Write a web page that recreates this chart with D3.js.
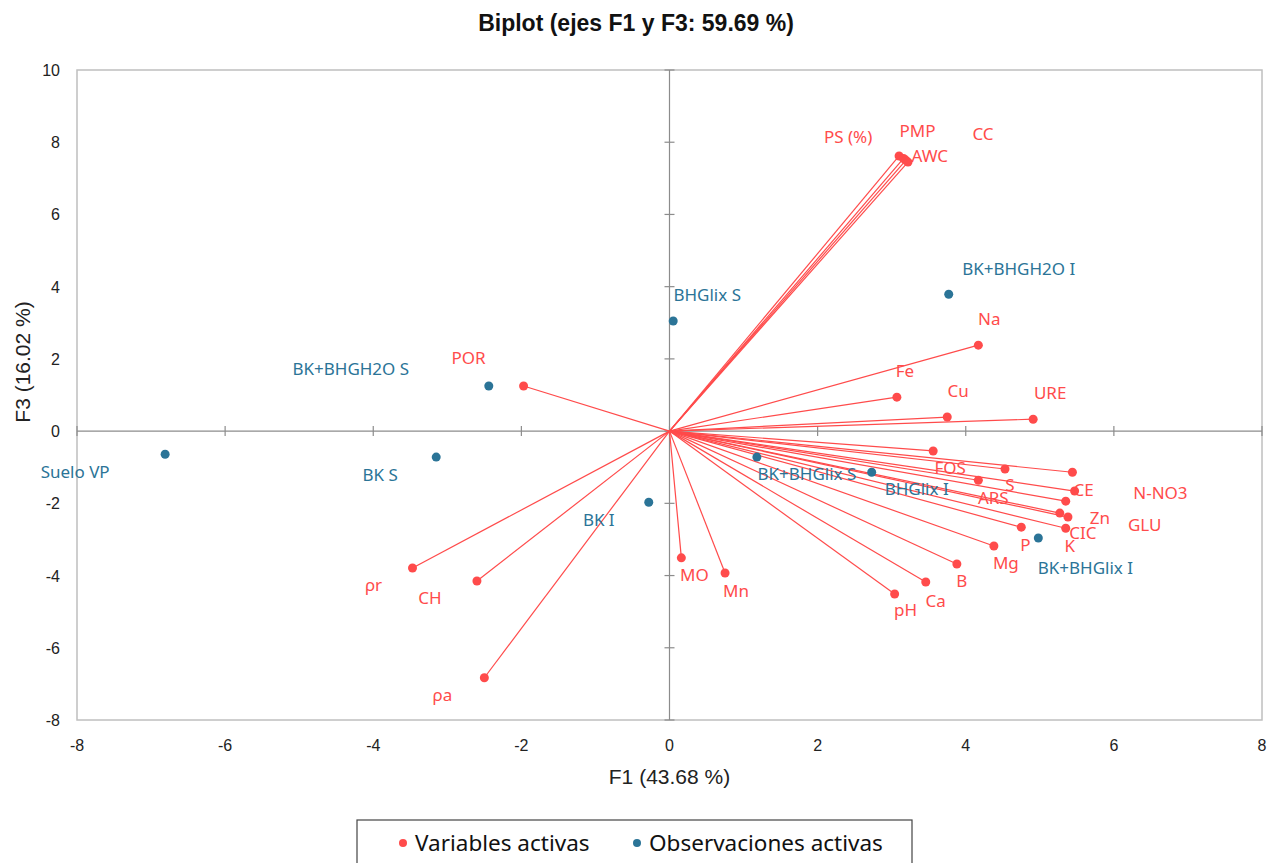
<!DOCTYPE html>
<html>
<head>
	<meta charset="utf-8">
	<title>Biplot</title>
	<script src="https://d3js.org/d3.v7.min.js"></script>
	<style>
	body { margin: 0; background: #fff; }
	text { font-family: "Liberation Sans", Arial, sans-serif; }
	.lbl { font-family: "Noto Sans", sans-serif; }
	</style>
</head>
<body>
<script type="text/javascript">

// active variables (F1, F3)
const varNames = ["PS (%)", "PMP", "AWC", "CC", "Na", "Fe", "Cu", "URE", "FOS", "S", "ARS",
	"N-NO3", "CE", "GLU", "CIC", "Zn", "K", "P", "Mg", "B", "Ca", "pH", "Mn", "MO", "ρr", "CH", "ρa", "POR"]
const varF1 = [3.10, 3.16, 3.19, 3.22, 4.17, 3.07, 3.75, 4.91, 3.56, 4.53, 4.17,
	5.44, 5.47, 5.35, 5.27, 5.38, 5.35, 4.75, 4.38, 3.88, 3.46, 3.04, 0.75, 0.16, -3.47, -2.60, -2.50, -1.97]
const varF3 = [7.62, 7.55, 7.50, 7.45, 2.38, 0.94, 0.39, 0.33, -0.55, -1.05, -1.36,
	-1.14, -1.66, -1.94, -2.27, -2.38, -2.69, -2.66, -3.18, -3.68, -4.18, -4.51, -3.93, -3.51, -3.79, -4.15, -6.83, 1.25]

// active observations (F1, F3)
const obsNames = ["Suelo VP", "BK S", "BK+BHGH2O S", "BK I", "BHGlix S", "BK+BHGH2O I", "BK+BHGlix S", "BHGlix I", "BK+BHGlix I"]
const obsF1 = [-6.81, -3.15, -2.44, -0.28, 0.05, 3.77, 1.18, 2.73, 4.98]
const obsF3 = [-0.64, -0.72, 1.25, -1.97, 3.05, 3.79, -0.72, -1.14, -2.96]

const xTicks = [-8, -6, -4, -2, 0, 2, 4, 6, 8]
const yTicks = [-8, -6, -4, -2, 0, 2, 4, 6, 8, 10]

// label offsets (px) from the marker, placed like the original
const labelOff = {
	"PS (%)": [-51, -19], "PMP": [14, -28], "AWC": [24, -5], "CC": [75, -29],
	"Na": [11, -27], "Fe": [8, -27], "Cu": [11, -27], "URE": [17, -27],
	"FOS": [17, 17], "S": [5, 15], "ARS": [15, 17], "N-NO3": [88, 20], "CE": [9, -2],
	"GLU": [79, 23], "CIC": [23, 19], "Zn": [32, 0], "K": [4, 17], "P": [4, 17],
	"Mg": [12, 17], "B": [5, 16], "Ca": [10, 18], "pH": [11, 16], "Mn": [11, 17],
	"MO": [13, 17], "ρr": [-39, 17], "CH": [-47, 17], "ρa": [-42, 17], "POR": [-55, -28],
	"Suelo VP": [-90, 17], "BK S": [-56, 17], "BK+BHGH2O S": [-138, -17], "BK I": [-50, 17],
	"BHGlix S": [34, -26], "BK+BHGH2O I": [70, -26], "BK+BHGlix S": [50, 16],
	"BHGlix I": [45, 16], "BK+BHGlix I": [47, 29]
}

const red = "#FF4B4B"
const blue = "#2B7497"

const width = 1271
const height = 863
const pLeft = 77, pRight = 1262, pTop = 70, pBottom = 720

const svg = d3.select("body").append("svg")
	.attr("width", width)
	.attr("height", height)

const x = d3.scaleLinear().domain([-8, 8]).range([pLeft, pRight])
const y = d3.scaleLinear().domain([-8, 10]).range([pBottom, pTop])

// plot frame
svg.append("rect")
	.attr("x", pLeft).attr("y", pTop)
	.attr("width", pRight - pLeft).attr("height", pBottom - pTop)
	.attr("fill", "none").attr("stroke", "#BFBFBF").attr("stroke-width", 1.5)

// zero axes with cross ticks
const axisCol = "#8C8C8C"
svg.append("line")
	.attr("x1", pLeft).attr("x2", pRight).attr("y1", y(0)).attr("y2", y(0))
	.attr("stroke", axisCol).attr("stroke-width", 1.2)
svg.append("line")
	.attr("x1", x(0)).attr("x2", x(0)).attr("y1", pTop).attr("y2", pBottom)
	.attr("stroke", axisCol).attr("stroke-width", 1.2)

svg.selectAll(".xt").data(xTicks).enter().append("line")
	.attr("x1", d => x(d)).attr("x2", d => x(d))
	.attr("y1", y(0) - 5).attr("y2", y(0) + 5)
	.attr("stroke", axisCol).attr("stroke-width", 1.2)
svg.selectAll(".yt").data(yTicks).enter().append("line")
	.attr("x1", x(0) - 5).attr("x2", x(0) + 5)
	.attr("y1", d => y(d)).attr("y2", d => y(d))
	.attr("stroke", axisCol).attr("stroke-width", 1.2)

// tick labels (low position)
svg.selectAll(".xl").data(xTicks).enter().append("text")
	.attr("x", d => x(d)).attr("y", 751)
	.attr("text-anchor", "middle")
	.attr("font-size", "16px").attr("fill", "#222")
	.text(d => d)
svg.selectAll(".yl").data(yTicks).enter().append("text")
	.attr("x", 60).attr("y", d => y(d) + 6)
	.attr("text-anchor", "end")
	.attr("font-size", "16px").attr("fill", "#222")
	.text(d => d)

// titles
svg.append("text")
	.attr("x", 636).attr("y", 31)
	.attr("text-anchor", "middle")
	.attr("font-size", "23px").attr("font-weight", "bold").attr("fill", "#111")
	.text("Biplot (ejes F1 y F3: 59.69 %)")
svg.append("text")
	.attr("x", x(0)).attr("y", 784)
	.attr("text-anchor", "middle")
	.attr("font-size", "21px").attr("fill", "#222")
	.text("F1 (43.68 %)")
svg.append("text")
	.attr("transform", "translate(30,362) rotate(-90)")
	.attr("text-anchor", "middle")
	.attr("font-size", "21px").attr("fill", "#222")
	.text("F3 (16.02 %)")

// variable vectors
const vars = varNames.map((n, i) => ({name: n, f1: varF1[i], f3: varF3[i]}))
const obs = obsNames.map((n, i) => ({name: n, f1: obsF1[i], f3: obsF3[i]}))

svg.selectAll(".vec").data(vars).enter().append("line")
	.attr("x1", x(0)).attr("y1", y(0))
	.attr("x2", d => x(d.f1)).attr("y2", d => y(d.f3))
	.attr("stroke", red).attr("stroke-width", 1.2)

svg.selectAll(".vp").data(vars).enter().append("circle")
	.attr("cx", d => x(d.f1)).attr("cy", d => y(d.f3))
	.attr("r", 4.5).attr("fill", red)

svg.selectAll(".op").data(obs).enter().append("circle")
	.attr("cx", d => x(d.f1)).attr("cy", d => y(d.f3))
	.attr("r", 4.5).attr("fill", blue)

function addLabels(data, col)
{
	svg.selectAll(null).data(data).enter().append("text")
		.attr("class", "lbl")
		.attr("x", d => x(d.f1) + labelOff[d.name][0])
		.attr("y", d => y(d.f3) + labelOff[d.name][1])
		.attr("text-anchor", "middle")
		.attr("dominant-baseline", "central")
		.attr("font-size", "17px")
		.attr("fill", col)
		.text(d => d.name)
}
addLabels(vars, red)
addLabels(obs, blue)

// legend
const lg = svg.append("g")
lg.append("rect")
	.attr("x", 357).attr("y", 820).attr("width", 555).attr("height", 60)
	.attr("fill", "#fff").attr("stroke", "#444").attr("stroke-width", 1.2)
const legendItems = [
	{label: "Variables activas", col: red, cx: 403},
	{label: "Observaciones activas", col: blue, cx: 637}
]
legendItems.forEach(function(it){
	lg.append("circle").attr("cx", it.cx).attr("cy", 843).attr("r", 4).attr("fill", it.col)
	lg.append("text")
		.attr("class", "lbl")
		.attr("x", it.cx + 12).attr("y", 851)
		.attr("font-size", "22.5px").attr("fill", "#111")
		.text(it.label)
})

</script>
</body>
</html>
